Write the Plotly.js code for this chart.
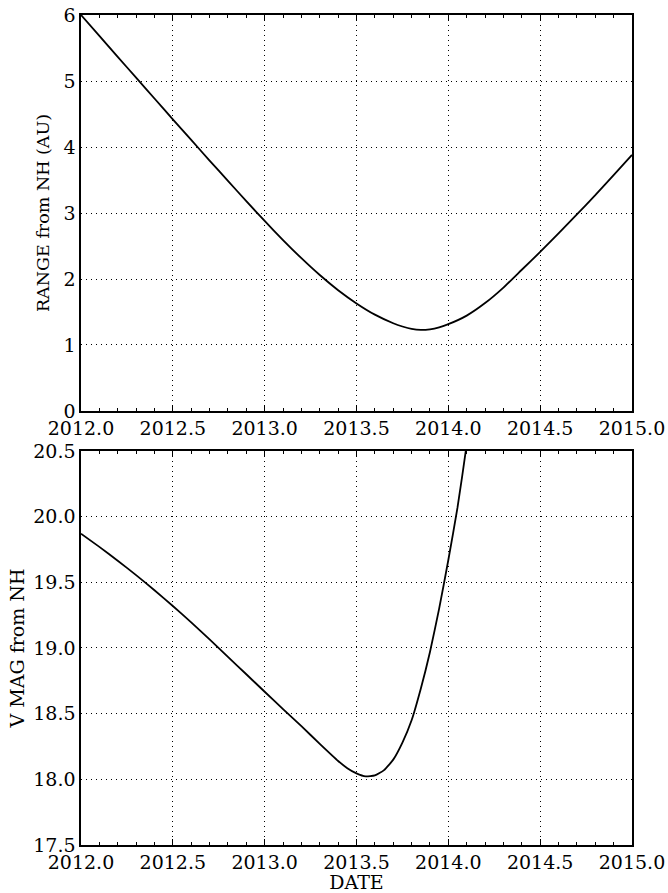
<!DOCTYPE html>
<html>
<head>
<meta charset="utf-8">
<script src="https://cdn.plot.ly/plotly-3.0.1.min.js"></script>
<style>html,body{margin:0;padding:0;background:#fff;}#chart{width:668px;height:893px;}</style>
</head>
<body>
<div id="chart"></div>
<script>
// Top panel: range from New Horizons (AU)
const rangeDates = [2012.0, 2012.1, 2012.2, 2012.3, 2012.4, 2012.5, 2012.6, 2012.7, 2012.8, 2012.9,
  2013.0, 2013.1, 2013.2, 2013.3, 2013.4, 2013.5, 2013.6, 2013.7, 2013.75, 2013.8, 2013.85, 2013.9, 2013.95,
  2014.0, 2014.1, 2014.2, 2014.3, 2014.4, 2014.5, 2014.6, 2014.7, 2014.8, 2014.9, 2015.0];
const rangeAU = [6.0, 5.683, 5.366, 5.05, 4.735, 4.42, 4.107, 3.795, 3.487, 3.18,
  2.88, 2.59, 2.315, 2.06, 1.83, 1.63, 1.46, 1.33, 1.28, 1.243, 1.228, 1.238, 1.268,
  1.315, 1.445, 1.635, 1.87, 2.14, 2.41, 2.69, 2.98, 3.27, 3.575, 3.88];

// Bottom panel: V magnitude from New Horizons
const magDates = [2012.0, 2012.1, 2012.2, 2012.3, 2012.4, 2012.5, 2012.6, 2012.7, 2012.8, 2012.9,
  2013.0, 2013.1, 2013.2, 2013.3, 2013.4, 2013.45, 2013.5, 2013.55, 2013.6, 2013.65, 2013.7, 2013.75,
  2013.8, 2013.85, 2013.9, 2013.95, 2014.0, 2014.05, 2014.1, 2014.15];
const vMag = [19.87, 19.77, 19.665, 19.555, 19.44, 19.32, 19.195, 19.065, 18.932, 18.80,
  18.667, 18.535, 18.405, 18.27, 18.14, 18.085, 18.045, 18.022, 18.03, 18.07, 18.15, 18.28,
  18.45, 18.69, 18.97, 19.30, 19.67, 20.07, 20.55, 21.1];

const xTickVals = [2012.0, 2012.5, 2013.0, 2013.5, 2014.0, 2014.5, 2015.0];
const rangeTicks = [0, 1, 2, 3, 4, 5, 6];
const magTicks = [17.5, 18.0, 18.5, 19.0, 19.5, 20.0, 20.5];

const FONT = 'DejaVu Serif, Liberation Serif, serif';
const FS = 19;
const gridDash = '1px,4px';

function xAxis(anchor, title) {
  const a = {
    anchor: anchor,
    range: [2012, 2015],
    tickmode: 'array',
    tickvals: xTickVals,
    ticktext: xTickVals.map(v => v.toFixed(1)),
    ticks: 'inside', ticklen: 6, tickwidth: 1, tickcolor: '#000',
    minor: {dtick: 0.1, tick0: 2012, ticks: 'inside', ticklen: 3, tickwidth: 1, tickcolor: '#000', showgrid: false},
    showline: true, linecolor: '#000', linewidth: 1.6, mirror: 'allticks',
    showgrid: true, gridcolor: '#000', gridwidth: 1, griddash: gridDash,
    zeroline: false,
    tickfont: {family: FONT, size: FS, color: '#000'}
  };
  if (title) a.title = {text: title, font: {family: FONT, size: FS, color: '#000'}, standoff: 0};
  return a;
}

const layout = {
  width: 668, height: 893,
  margin: {l: 81, r: 36, t: 15, b: 48},
  paper_bgcolor: '#fff', plot_bgcolor: '#fff',
  showlegend: false,
  font: {family: FONT, size: FS, color: '#000'},
  xaxis: xAxis('y', null),
  xaxis2: xAxis('y2', 'DATE'),
  yaxis: {
    domain: [0.5229, 1], anchor: 'x',
    range: [0, 6], tickmode: 'array', tickvals: rangeTicks, ticktext: rangeTicks.map(String),
    ticks: '', showline: true, linecolor: '#000', linewidth: 1.6, mirror: true,
    showgrid: true, gridcolor: '#000', gridwidth: 1, griddash: gridDash, zeroline: false,
    tickfont: {family: FONT, size: FS, color: '#000'},
    title: {text: 'RANGE from NH (AU)', font: {family: FONT, size: 17.5, color: '#000'}, standoff: 9}
  },
  yaxis3: {
    overlaying: 'y', anchor: 'x', side: 'right',
    range: [0, 6], tickmode: 'array', tickvals: rangeTicks,
    ticks: 'inside', ticklen: 6, tickwidth: 1, tickcolor: '#000', showticklabels: false,
    minor: {dtick: 0.1, tick0: 0, ticks: 'inside', ticklen: 3, tickwidth: 1, tickcolor: '#000', showgrid: false},
    showline: false, showgrid: false, zeroline: false
  },
  yaxis2: {
    domain: [0, 0.4747], anchor: 'x2',
    range: [17.5, 20.5], tickmode: 'array', tickvals: magTicks, ticktext: magTicks.map(v => v.toFixed(1)),
    ticks: '', showline: true, linecolor: '#000', linewidth: 1.6, mirror: true,
    showgrid: true, gridcolor: '#000', gridwidth: 1, griddash: gridDash, zeroline: false,
    tickfont: {family: FONT, size: FS, color: '#000'},
    title: {text: 'V MAG from NH', font: {family: FONT, size: FS, color: '#000'}, standoff: 3}
  },
  yaxis4: {
    overlaying: 'y2', anchor: 'x2', side: 'right',
    range: [17.5, 20.5], tickmode: 'array', tickvals: magTicks,
    ticks: 'inside', ticklen: 6, tickwidth: 1, tickcolor: '#000', showticklabels: false,
    minor: {dtick: 0.1, tick0: 17.5, ticks: 'inside', ticklen: 3, tickwidth: 1, tickcolor: '#000', showgrid: false},
    showline: false, showgrid: false, zeroline: false
  }
};

const traces = [
  {x: rangeDates, y: rangeAU, xaxis: 'x', yaxis: 'y', mode: 'lines',
   line: {color: '#000', width: 1.8, shape: 'spline', smoothing: 0.5}, hoverinfo: 'skip'},
  {x: magDates, y: vMag, xaxis: 'x2', yaxis: 'y2', mode: 'lines',
   line: {color: '#000', width: 1.8, shape: 'spline', smoothing: 0.5}, hoverinfo: 'skip'}
];

Plotly.newPlot('chart', traces, layout, {staticPlot: true, displayModeBar: false});
</script>
</body>
</html>
